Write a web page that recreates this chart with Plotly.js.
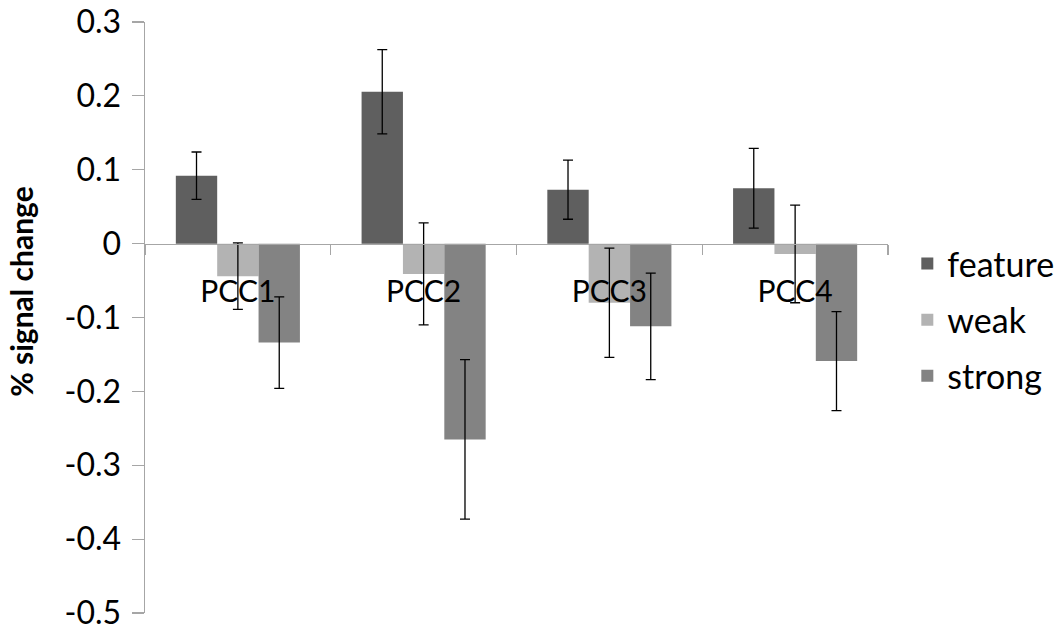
<!DOCTYPE html>
<html>
<head>
<meta charset="utf-8">
<script src="https://cdn.plot.ly/plotly-3.0.1.min.js"></script>
<style>html,body{margin:0;padding:0;background:#fff;}#chart{width:1061px;height:633px;}</style>
</head>
<body>
<div id="chart"></div>
<script>
const categories = ["PCC1", "PCC2", "PCC3", "PCC4"];
const seriesNames = ["feature", "weak", "strong"];
const featureValues = [0.092, 0.2055, 0.073, 0.075];
const featureErrors = [0.032, 0.057, 0.040, 0.054];
const weakValues = [-0.044, -0.041, -0.080, -0.014];
const weakErrors = [0.045, 0.069, 0.074, 0.066];
const strongValues = [-0.134, -0.265, -0.112, -0.159];
const strongErrors = [0.062, 0.108, 0.072, 0.067];
const yTickValues = [-0.5, -0.4, -0.3, -0.2, -0.1, 0, 0.1, 0.2, 0.3];
const yTickLabels = ["-0.5", "-0.4", "-0.3", "-0.2", "-0.1", "0", "0.1", "0.2", "0.3"];
const yTitle = "% signal change";

const colors = ["#5f5f5f", "#b3b3b3", "#838383"];
const values = [featureValues, weakValues, strongValues];
const errors = [featureErrors, weakErrors, strongErrors];

const traces = seriesNames.map((name, i) => ({
  type: "bar",
  name: name,
  legendgroup: name,
  x: categories,
  y: values[i],
  marker: {color: colors[i]},
  error_y: {type: "data", array: errors[i], visible: true, color: "#000", thickness: 1.3, width: 5},
  hoverinfo: "skip"
}));

const font = "Lato, 'Open Sans', sans-serif";
const layout = {
  width: 1061, height: 633,
  paper_bgcolor: "#fff", plot_bgcolor: "#fff",
  margin: {l: 145, r: 173, t: 22, b: 20, autoexpand: false},
  barmode: "group", bargap: 0.332, bargroupgap: 0,
  showlegend: true,
  legend: {x: 1.026, xanchor: "left", y: 0.496, yanchor: "middle",
           font: {family: font, size: 34, color: "#000"}, tracegroupgap: 9,
           traceorder: "grouped"},
  xaxis: {
    type: "category", anchor: "free", position: 0.625,
    showline: true, linecolor: "#a6a6a6", linewidth: 1.5,
    ticks: "outside", ticklen: 10, tickcolor: "#a6a6a6", tickwidth: 1.2,
    tickson: "boundaries", showgrid: false, zeroline: false,
    tickfont: {family: font, size: 30, color: "#000"},
    ticklabelstandoff: 21
  },
  yaxis: {
    range: [-0.5, 0.3], domain: [0, 1],
    tickmode: "array", tickvals: yTickValues, ticktext: yTickLabels,
    ticklabeloverflow: "allow",
    showline: true, linecolor: "#a6a6a6", linewidth: 1.5,
    ticks: "outside", ticklen: 12, tickcolor: "#a6a6a6", tickwidth: 1.2,
    showgrid: false, zeroline: false,
    tickfont: {family: font, size: 32, color: "#000"},
    ticklabelstandoff: 4
  },
  annotations: [{
    text: "<b>" + yTitle + "</b>", textangle: -90,
    xref: "paper", yref: "paper", x: -0.167, y: 0.545,
    xanchor: "center", yanchor: "middle", showarrow: false,
    font: {family: font, size: 30, color: "#000"}
  }]
};

Plotly.newPlot("chart", traces, layout, {displayModeBar: false, staticPlot: true});
</script>
</body>
</html>
